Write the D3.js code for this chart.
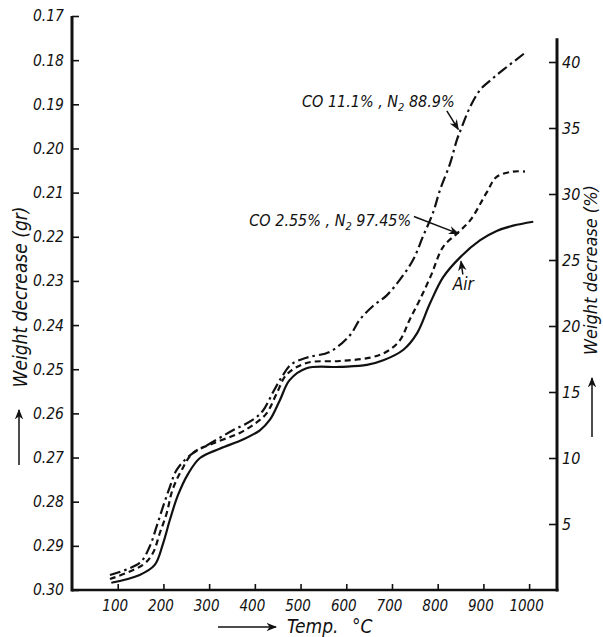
<!DOCTYPE html>
<html><head><meta charset="utf-8">
<script src="https://cdn.jsdelivr.net/npm/d3@7"></script>
<style>
html,body{margin:0;padding:0;background:#fff;}
svg{display:block;}
text{font-family:"Liberation Sans Narrow","DejaVu Sans Condensed","Liberation Sans",sans-serif;font-style:italic;fill:#111;}
</style></head>
<body>
<svg id="chart" width="603" height="637"></svg>
<script>
// ---- data (temperature in °C, weight decrease in %) ----
const airTemp = [86,148,181,199,214,232,254,280,323,374,411,433,455,476,513,586,645,681,725,754,783,812,849,893,929,965,1009];
const airPct  = [0.55,1.14,1.9,3.5,5.3,7.2,8.8,10.0,10.7,11.4,12.1,12.9,14.4,15.9,16.8,16.9,17.05,17.4,18.2,19.4,21.7,23.7,25.2,26.5,27.2,27.6,27.9];

const co255Temp = [83,155,177,192,207,220,240,265,308,367,404,426,448,469,513,586,652,688,717,739,761,785,812,842,871,907,929,965,991];
const co255Pct  = [0.83,1.9,2.8,4.3,5.8,7.6,9.1,10.4,11.1,11.9,12.7,13.4,14.9,16.3,17.2,17.35,17.6,18.05,18.9,20.5,22.0,23.8,26.0,27.0,28.0,30.1,31.3,31.7,31.7];

const co111Temp = [83,148,170,185,199,214,229,258,302,352,396,418,440,460,480,513,564,608,630,658,688,717,746,768,790,805,827,842,853,871,893,915,943,995];
const co111Pct  = [1.14,2.05,3.3,4.8,6.3,7.8,9.1,10.2,11.1,12.1,12.9,13.6,15.0,16.2,17.1,17.6,18.05,19.3,20.5,21.5,22.3,23.5,25.0,26.8,28.6,30.3,32.3,34.1,35.1,36.6,37.9,38.6,39.4,40.8];

const tempTicks   = [100,200,300,400,500,600,700,800,900,1000];
const weightTicks = [0.17,0.18,0.19,0.20,0.21,0.22,0.23,0.24,0.25,0.26,0.27,0.28,0.29,0.30];
const pctTicks    = [5,10,15,20,25,30,35,40];

// ---- layout ----
const svg = d3.select("#chart");
const X0 = 72, X1 = 557, Y0 = 590;
const x = d3.scaleLinear().domain([0, 1061]).range([X0, X1]);
const yW = d3.scaleLinear().domain([0.17, 0.30]).range([16, Y0]);
const yP = d3.scaleLinear().domain([0, 40]).range([Y0, 62]);

// axes
const gL = svg.append("g").attr("transform", `translate(${X0},0)`)
  .call(d3.axisLeft(yW).tickValues(weightTicks).tickFormat(d3.format(".2f")).tickSize(-7).tickSizeOuter(0).tickPadding(8));
const gR = svg.append("g").attr("transform", `translate(${X1},0)`)
  .call(d3.axisRight(yP).tickValues(pctTicks).tickFormat(d3.format("d")).tickSize(-8).tickSizeOuter(0).tickPadding(5));
const gB = svg.append("g").attr("transform", `translate(0,${Y0})`)
  .call(d3.axisBottom(x).tickValues(tempTicks).tickFormat(d3.format("d")).tickSize(-6).tickSizeOuter(0).tickPadding(10));
[gL,gR,gB].forEach(g => {
  g.select(".domain").remove();
  g.selectAll(".tick line").attr("stroke","#111").attr("stroke-width",1.6);
  g.selectAll(".tick text").style("font-size","15.5px").attr("fill","#111");
});
gR.selectAll(".tick text").style("font-size","16px");
gB.selectAll(".tick text").style("font-size","15px").attr("dx","-3");

// axis lines
svg.append("line").attr("x1",X0).attr("x2",X0).attr("y1",yW(0.17)).attr("y2",Y0+1.5).attr("stroke","#111").attr("stroke-width",3);
svg.append("line").attr("x1",X1).attr("x2",X1).attr("y1",yP(41.8)).attr("y2",Y0+1.5).attr("stroke","#111").attr("stroke-width",3);
svg.append("line").attr("x1",X0).attr("x2",X1+1.5).attr("y1",Y0).attr("y2",Y0).attr("stroke","#111").attr("stroke-width",2.5);

// curves
const line = d3.line().x(d => x(d[0])).y(d => yP(d[1])).curve(d3.curveCatmullRom.alpha(0.5));
const series = [
  {t: airTemp,   p: airPct,   dash: null},
  {t: co255Temp, p: co255Pct, dash: "6,4"},
  {t: co111Temp, p: co111Pct, dash: "11,4,2.5,4"}
];
series.forEach(s => {
  svg.append("path").datum(s.t.map((t,i)=>[t, s.p[i]]))
    .attr("d", line).attr("fill","none").attr("stroke","#111").attr("stroke-width",2.2)
    .attr("stroke-dasharray", s.dash);
});

// arrow marker
const defs = svg.append("defs");
defs.append("marker").attr("id","ah").attr("viewBox","0 0 10 10").attr("refX",9).attr("refY",5)
  .attr("markerWidth",7).attr("markerHeight",7).attr("orient","auto-start-reverse")
  .append("path").attr("d","M0,1 L10,5 L0,9 L3,5 Z").attr("fill","#111");

function arrow(t1,p1,t2,p2){
  svg.append("line").attr("x1",x(t1)).attr("y1",yP(p1)).attr("x2",x(t2)).attr("y2",yP(p2))
    .attr("stroke","#111").attr("stroke-width",1.5).attr("marker-end","url(#ah)");
}

// annotations
const a1 = svg.append("text").attr("x",x(503)).attr("y",yP(36.6)).style("font-size","16px");
a1.append("tspan").text("CO 11.1% , N");
a1.append("tspan").text("2").style("font-size","11px").attr("dy","4");
a1.append("tspan").text(" 88.9%").attr("dy","-4");
arrow(820,36.3,845,34.9);

const a2 = svg.append("text").attr("x",x(742)).attr("y",yP(27.6)).attr("text-anchor","end").style("font-size","16px");
a2.append("tspan").text("CO 2.55% , N");
a2.append("tspan").text("2").style("font-size","11px").attr("dy","4");
a2.append("tspan").text(" 97.45%").attr("dy","-4");
arrow(748,28.3,845,27.0);

svg.append("text").attr("x",x(833)).attr("y",yP(22.7)).style("font-size","17px").text("Air");
arrow(855,23.9,851,24.9);

// axis titles
svg.append("text").attr("transform","translate(27,297) rotate(-90)").attr("text-anchor","middle")
  .style("font-size","19px").text("Weight decrease (gr)");
svg.append("line").attr("x1",19).attr("x2",19).attr("y1",465).attr("y2",410)
  .attr("stroke","#111").attr("stroke-width",1.5).attr("marker-end","url(#ah)");

svg.append("text").attr("transform","translate(597,270) rotate(-90)").attr("text-anchor","middle")
  .style("font-size","18px").text("Weight decrease (%)");
svg.append("line").attr("x1",592).attr("x2",592).attr("y1",437).attr("y2",378)
  .attr("stroke","#111").attr("stroke-width",1.5).attr("marker-end","url(#ah)");

svg.append("line").attr("x1",218).attr("x2",276).attr("y1",627).attr("y2",627)
  .attr("stroke","#111").attr("stroke-width",1.5).attr("marker-end","url(#ah)");
svg.append("text").attr("x",287).attr("y",633).style("font-size","19px").text("Temp.");
svg.append("text").attr("x",352).attr("y",633).style("font-size","19px").text("°C");
</script>
</body></html>
